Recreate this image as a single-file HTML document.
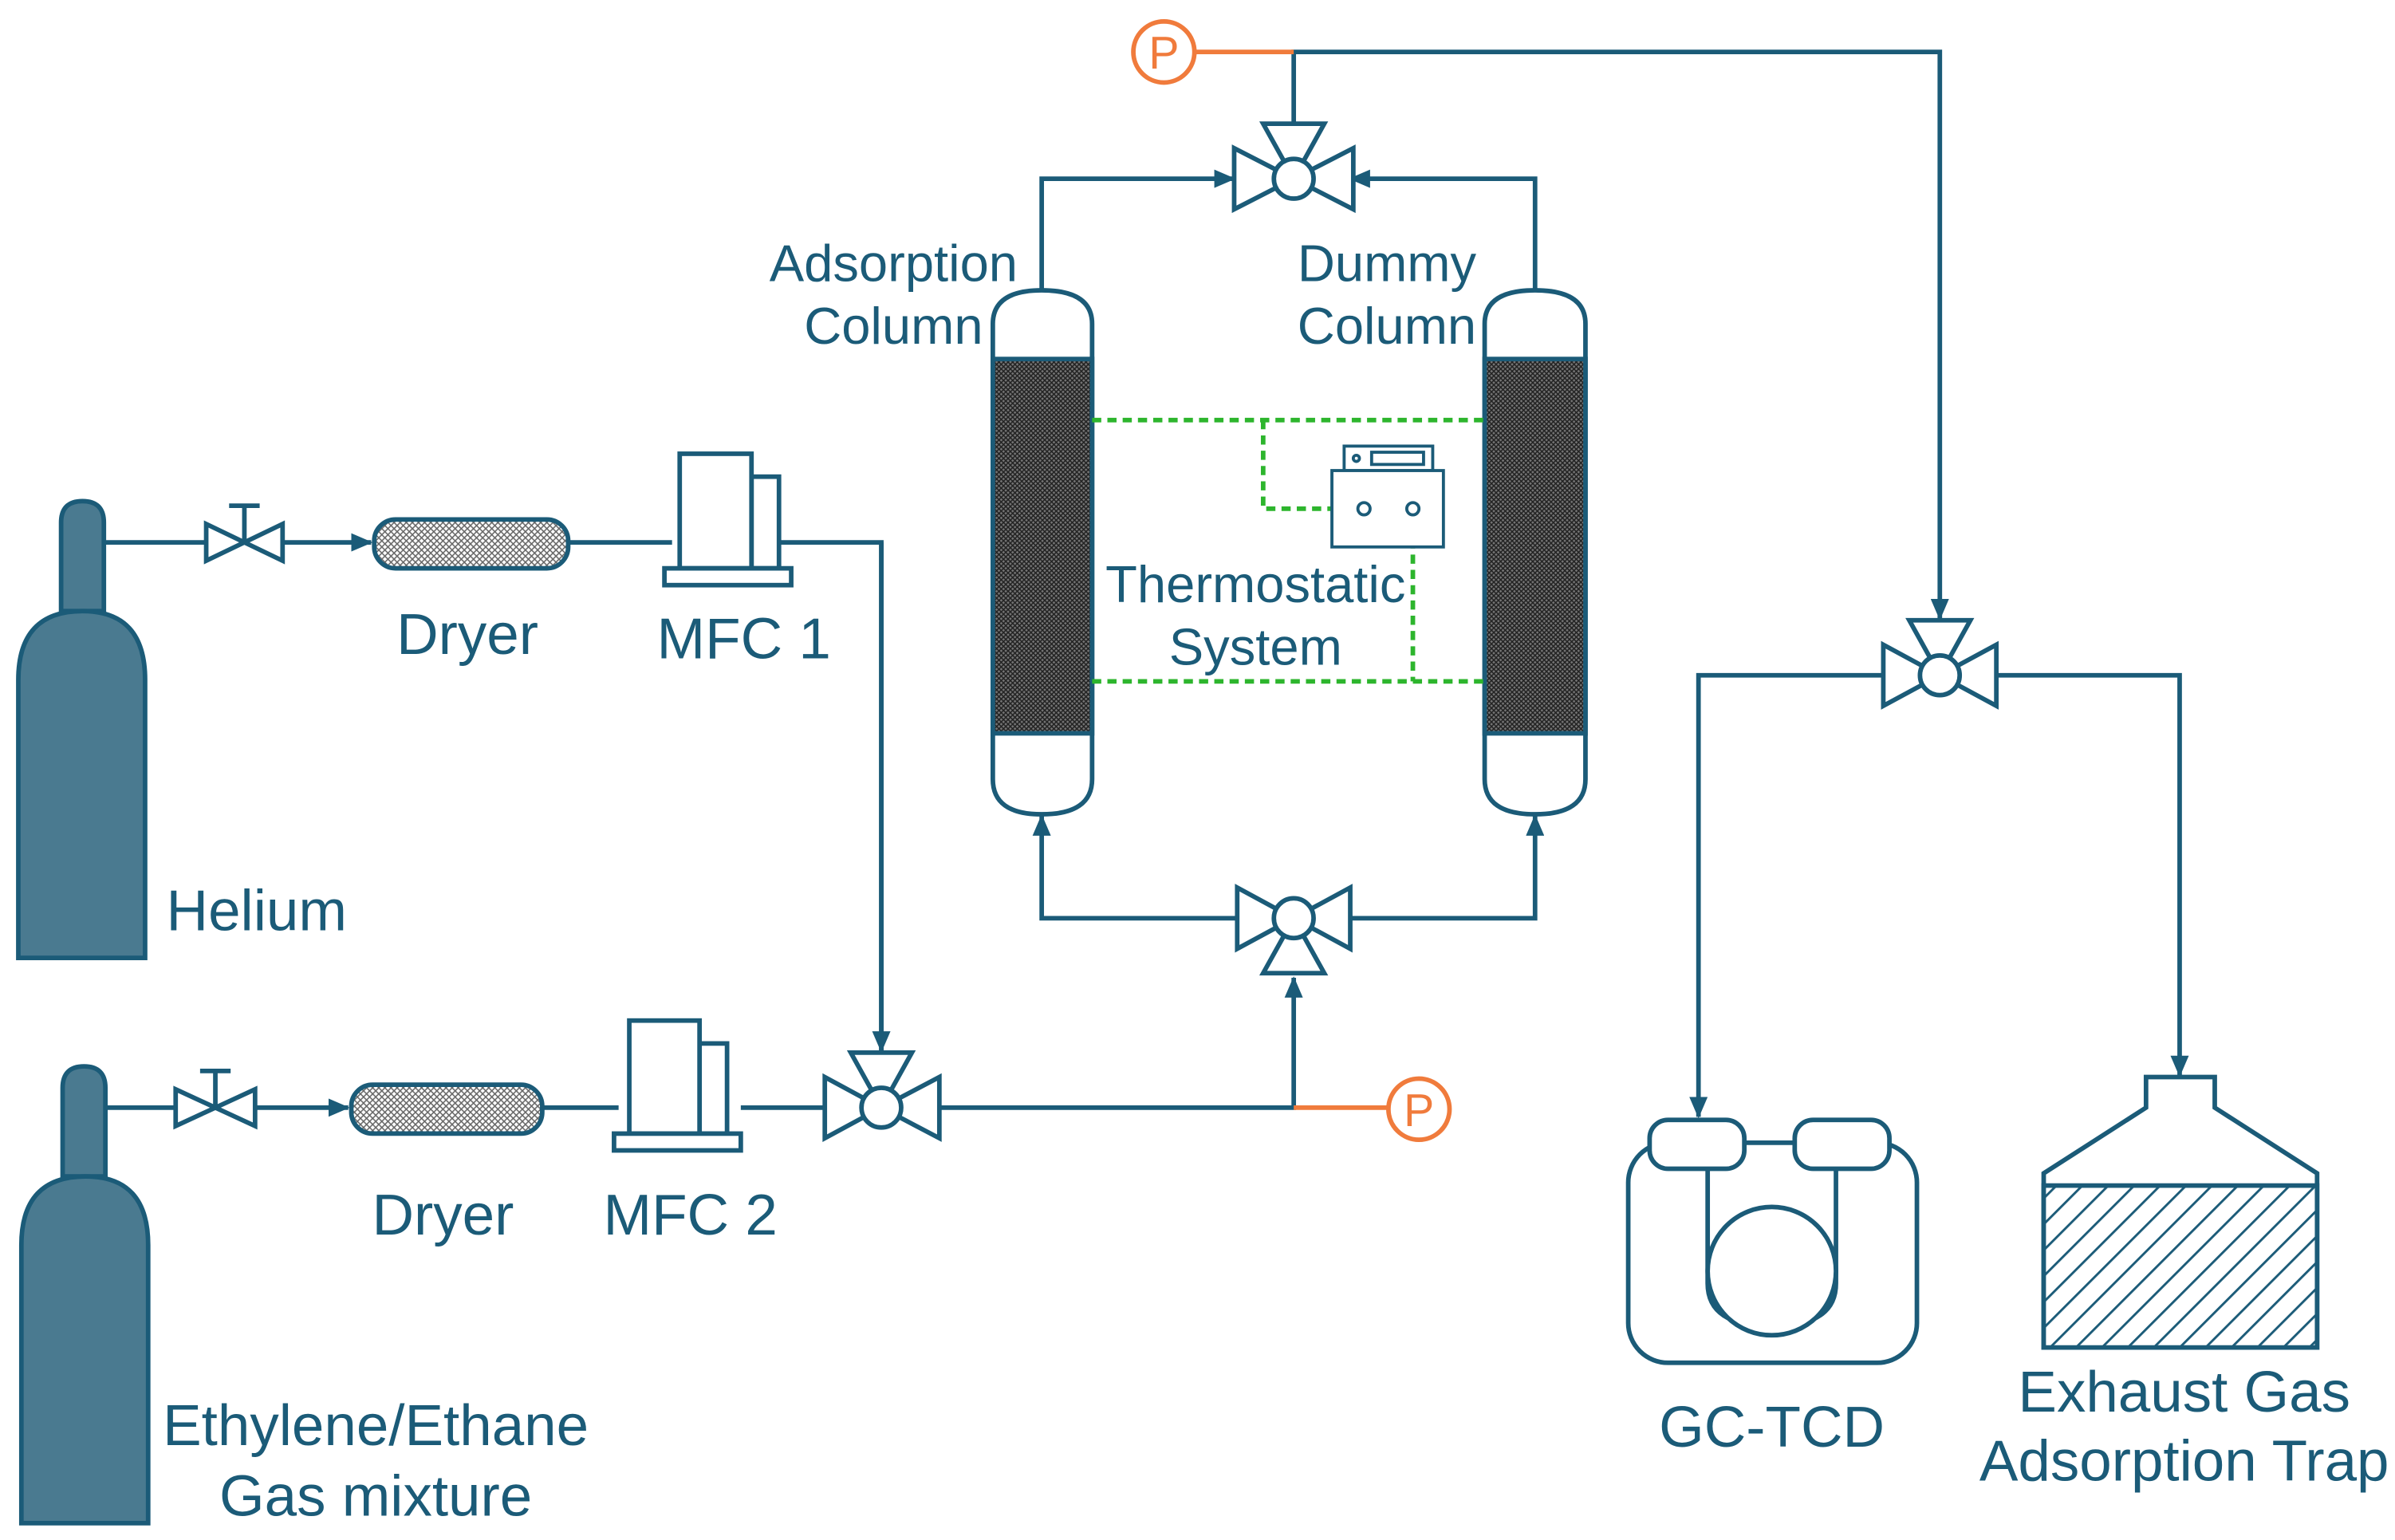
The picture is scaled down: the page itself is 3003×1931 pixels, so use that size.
<!DOCTYPE html>
<html><head><meta charset="utf-8"><style>
html,body{margin:0;padding:0;background:#fff;}
svg{display:block;}
text{font-family:"Liberation Sans",sans-serif;fill:#1b5b78;font-size:38px;text-anchor:middle;}
text.s{font-size:34px;}
</style></head><body>
<svg width="3003" height="1931" viewBox="0 0 1568 1008" preserveAspectRatio="none" xmlns="http://www.w3.org/2000/svg">
<defs>
<pattern id="mesh" width="4" height="4" patternUnits="userSpaceOnUse">
<rect width="4" height="4" fill="#fff"/><path d="M0 0L4 4M4 0L0 4" stroke="#666" stroke-width="0.8"/></pattern>
<pattern id="dmesh" width="3" height="3" patternUnits="userSpaceOnUse">
<rect width="3" height="3" fill="#777"/><path d="M0 0L3 3M3 0L0 3" stroke="#222" stroke-width="0.8"/></pattern>
<pattern id="hatch" width="12" height="12" patternUnits="userSpaceOnUse" patternTransform="rotate(45)">
<rect width="12" height="12" fill="#fff"/><line x1="0" y1="0" x2="0" y2="12" stroke="#1b5b78" stroke-width="3"/></pattern>
<marker id="ar" markerWidth="14" markerHeight="12" refX="13" refY="6" orient="auto" markerUnits="userSpaceOnUse">
<path d="M0 0L14 6L0 12z" fill="#1b5b78"/></marker>
</defs>
<g stroke="#1b5b78" stroke-width="3" fill="none">
<path d="M68 355H135M185 355H243" marker-end="url(#ar)"/>
<path d="M372 355H440M510 355H577V688" />
<path d="M577 355V688" marker-end="url(#ar)"/>
<path d="M68 725H115M167 725H228" marker-end="url(#ar)"/>
<path d="M355 725H405M485 725H540M615 725H847V640" marker-end="url(#ar)"/>
<path d="M810 601H682V534" marker-end="url(#ar)"/>
<path d="M884 601H1005V534" marker-end="url(#ar)"/>
<path d="M682 190V117H808" marker-end="url(#ar)"/>
<path d="M1005 190V117H884" marker-end="url(#ar)"/>
<path d="M847 80V34H1270V405" marker-end="url(#ar)"/>
<path d="M1233 442H1112V731" marker-end="url(#ar)"/>
<path d="M1307 442H1427V704" marker-end="url(#ar)"/>
</g>
<g stroke="#f07b3c" stroke-width="3" fill="#fff">
<path d="M782 34H847M847 725H910" fill="none"/>
<circle cx="762" cy="34" r="20"/><circle cx="929" cy="726" r="20"/>
</g>
<text x="762" y="45" style="fill:#f07b3c;font-size:30px">P</text>
<text x="929" y="737" style="fill:#f07b3c;font-size:30px">P</text>
<g fill="#4a7a90" stroke="#1b5b78" stroke-width="3">
<path d="M40 400V342Q40 328 54 328Q68 328 68 342V400Z"/>
<path d="M12 627V445Q12 400 54 400Q95 400 95 445V627Z"/>
<path d="M41 770V712Q41 698 55 698Q69 698 69 712V770Z"/>
<path d="M14 997V815Q14 770 56 770Q97 770 97 815V997Z"/>
</g>
<g stroke="#1b5b78" stroke-width="3" fill="#fff">
<path d="M135 343V367L185 343V367Z"/><path d="M160 355V331M150 331H170"/>
<path d="M115 713V737L167 713V737Z"/><path d="M141 725V701M131 701H151"/>
<rect x="245" y="340" width="127" height="32" rx="14" fill="url(#mesh)"/>
<rect x="230" y="710" width="125" height="32" rx="14" fill="url(#mesh)"/>
<rect x="492" y="312" width="18" height="60"/><rect x="445" y="297" width="47" height="75"/><rect x="435" y="372" width="83" height="11"/>
<rect x="458" y="683" width="18" height="59"/><rect x="412" y="668" width="46" height="74"/><rect x="402" y="742" width="83" height="11"/>
<path d="M540 705V745L577 725Z M615 705V745L577 725Z M557 689H597L577 725Z"/><circle cx="577" cy="725" r="13"/>
<path d="M810 581V621L847 601Z M884 581V621L847 601Z M827 637H867L847 601Z"/><circle cx="847" cy="601" r="13"/>
<path d="M808 97V137L847 117Z M886 97V137L847 117Z M827 81H867L847 117Z"/><circle cx="847" cy="117" r="13"/>
<path d="M1233 422V462L1270 442Z M1307 422V462L1270 442Z M1250 406H1290L1270 442Z"/><circle cx="1270" cy="442" r="13"/>
<path d="M650 510V212Q650 190 682 190Q715 190 715 212V510Q715 533 682 533Q650 533 650 510Z"/>
<path d="M972 510V212Q972 190 1005 190Q1038 190 1038 212V510Q1038 533 1005 533Q972 533 972 510Z"/>
<rect x="650" y="235" width="65" height="245" fill="url(#dmesh)"/>
<rect x="972" y="235" width="66" height="245" fill="url(#dmesh)"/>
<rect x="1066" y="748" width="189" height="144" rx="26"/>
<path d="M1118 765V840Q1118 868 1160 868Q1202 868 1202 840V765"/>
<circle cx="1160" cy="832" r="42"/>
<rect x="1080" y="733" width="62" height="32" rx="12"/><rect x="1175" y="733" width="62" height="32" rx="12"/>
<path d="M1405 705H1450V725L1517 768V882H1338V768L1405 725Z"/>
<rect x="1338" y="776" width="179" height="106" fill="url(#hatch)"/>
</g>
<g stroke="#2db52d" stroke-width="3" stroke-dasharray="6 4" fill="none">
<path d="M715 275H972M715 446H972M827 275V333H893M925 333V446"/>
</g>
<g stroke="#1b5b78" stroke-width="2" fill="#fff">
<rect x="880" y="292" width="58" height="16"/><rect x="872" y="308" width="73" height="50"/>
<rect x="898" y="296" width="34" height="8"/><circle cx="888" cy="300" r="2"/>
<circle cx="893" cy="333" r="4"/><circle cx="925" cy="333" r="4"/>
</g>
<text class="s" x="585" y="184">Adsorption</text><text class="s" x="585" y="225">Column</text>
<text class="s" x="908" y="184">Dummy</text><text class="s" x="908" y="225">Column</text>
<text class="s" x="822" y="394">Thermostatic</text><text class="s" x="822" y="435">System</text>
<text x="306" y="428">Dryer</text><text x="487" y="431">MFC 1</text>
<text x="168" y="609">Helium</text>
<text x="290" y="808">Dryer</text><text x="452" y="808">MFC 2</text>
<text x="246" y="946">Ethylene/Ethane</text><text x="246" y="992">Gas mixture</text>
<text x="1160" y="947">GC-TCD</text>
<text x="1430" y="924">Exhaust Gas</text><text x="1430" y="969">Adsorption Trap</text>
</svg>
</body></html>
